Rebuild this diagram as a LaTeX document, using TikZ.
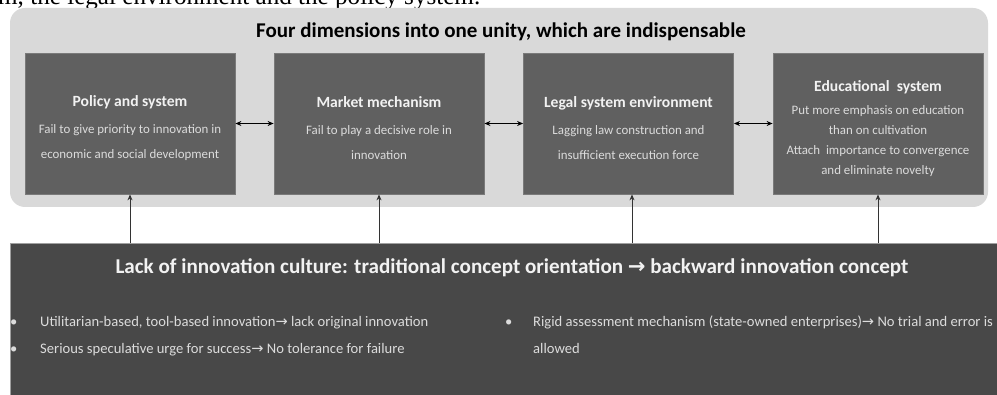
\documentclass[tikz,border=0pt]{standalone}
\usepackage{fontspec}
\usepackage{graphicx}
\setmainfont{Carlito}
\newfontfamily\seriffam{Liberation Serif}
\newfontfamily\arrowfam{DejaVu Sans}
\usetikzlibrary{arrows.meta}
\definecolor{panelgray}{HTML}{D9D9D9}
\definecolor{boxgray}{HTML}{606060}
\definecolor{boxedge}{HTML}{7A7A7A}
\definecolor{basegray}{HTML}{484848}
\definecolor{baseedge}{HTML}{A0A0A0}
\definecolor{headtext}{HTML}{F2F2F2}
\definecolor{bodytext}{HTML}{DCDCDC}
\newcommand{\ra}{{\arrowfam\char"2192}}
\begin{document}
\begin{tikzpicture}[x=1pt,y=-1pt,
  panel/.style={fill=panelgray, draw=none, rounded corners=15pt, inner sep=0,
    minimum width=978pt, minimum height=199pt},
  dimbox/.style={fill=boxgray, draw=boxedge, line width=0.8pt, inner sep=0,
    minimum width=210pt, minimum height=141pt},
  dimtext/.style={align=center, text=bodytext, inner sep=0,
    font=\fontsize{12.9}{25}\selectfont},
  dimhead/.style={},
  basebox/.style={fill=basegray, draw=baseedge, line width=1pt, inner sep=0,
    minimum width=992pt, minimum height=160pt},
  bullettext/.style={align=left, text=bodytext, inner sep=0, anchor=base west,
    font=\fontsize{14.6}{27}\selectfont},
  dbl/.style={{Stealth[length=6pt,width=5pt]}-{Stealth[length=6pt,width=5pt]}, line width=1pt, black},
  up/.style={-{Stealth[length=6pt,width=5pt]}, line width=1pt, draw=black!80}]
\useasboundingbox (0,0) rectangle (997,395);

% sentence running above the figure
\node[anchor=base west, inner sep=0] (runin) at (-2,5)
  {\resizebox{482pt}{!}{\seriffam\fontsize{25}{30}\selectfont m, the legal environment and the policy system.}};

% upper panel with the four dimensions
\node[panel] (panel) at (499,107.5) {};
\node[font=\bfseries\fontsize{21}{24}\selectfont, inner sep=0] (ptitle) at (501,32)
  {Four dimensions into one unity, which are indispensable};

\node[dimbox] (b1) at (130,123.5) {};
\node[dimbox] (b2) at (379,123.5) {};
\node[dimbox] (b3) at (628.5,123.5) {};
\node[dimbox] (b4) at (878,123.5) {};

\newcommand{\dimhead}[1]{\textcolor{headtext}{\bfseries\fontsize{15.6}{18}\selectfont #1}}
\node[dimtext] (t1) at ([yshift=-5pt]b1.center)
  {\dimhead{Policy and system}\\[2pt]
   Fail to give priority to innovation in\\ economic and social development};
\node[dimtext] (t2) at ([yshift=-5pt]b2.center)
  {\dimhead{Market mechanism}\\[2pt]
   Fail to play a decisive role in\\ innovation};
\node[dimtext] (t3) at ([yshift=-5pt]b3.center)
  {\dimhead{Legal system environment}\\[2pt]
   Lagging law construction and\\ insufficient execution force};
\node[dimtext, font=\fontsize{12.9}{20}\selectfont] (t4) at ([yshift=-5pt]b4.center)
  {\dimhead{Educational\ \ system}\\[3pt]
   Put more emphasis on education\\ than on cultivation\\
   Attach\ \ importance to convergence\\ and eliminate novelty};

\draw[dbl] (b1.east) -- (b2.west);
\draw[dbl] (b2.east) -- (b3.west);
\draw[dbl] (b3.east) -- (b4.west);

% lower block: the cultural root
\node[basebox] (base) at (506,324) {};
\node[text=headtext, inner sep=0, font=\fontsize{21.1}{24}\selectfont\bfseries] (btitle) at (512,268)
  {Lack of innovation culture: traditional concept orientation \ra{} backward innovation concept};

\node[bullettext] (dot1) at (10,354) {\textbullet\\\textbullet};
\node[bullettext] (l1) at (40,354)
  {Utilitarian-based, tool-based innovation\ra{} lack original innovation\\
   Serious speculative urge for success\ra{} No tolerance for failure};
\node[bullettext] (dot2) at (505,327) {\textbullet};
\node[bullettext] (l2) at (533,354)
  {Rigid assessment mechanism (state-owned enterprises)\ra{} No trial and error is\\ allowed};

\draw[up] (b1.south |- base.north) -- (b1.south);
\draw[up] (b2.south |- base.north) -- (b2.south);
\draw[up] ([xshift=3.5pt]b3.south |- base.north) -- ([xshift=3.5pt]b3.south);
\draw[up] (b4.south |- base.north) -- (b4.south);
\end{tikzpicture}
\end{document}
